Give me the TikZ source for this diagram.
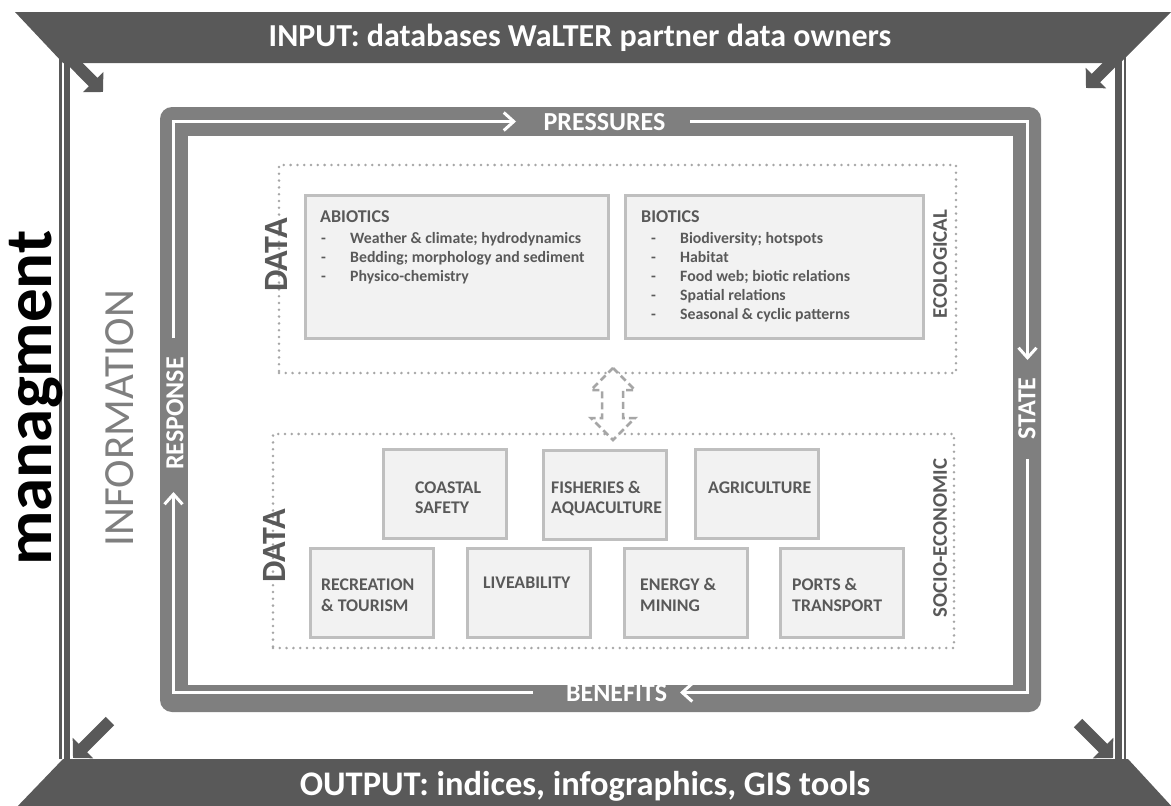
\documentclass[tikz,border=0pt]{standalone}
\usepackage{fontspec}
\setmainfont{Carlito}
\usetikzlibrary{arrows.meta}
\definecolor{dk}{HTML}{595959}
\definecolor{fr}{HTML}{7F7F7F}
\definecolor{bxf}{HTML}{F2F2F2}
\definecolor{bxl}{HTML}{BFBFBF}
\definecolor{dt}{HTML}{A6A6A6}
\newcommand{\fsz}[1]{\fontsize{#1}{#1}\selectfont}
\begin{document}
\begin{tikzpicture}[x=1pt,y=-1pt,
  bantext/.style={text=white,font=\bfseries\fsz{32},inner sep=0pt},
  carrow/.style={draw=dk,fill=dk,line width=12pt,-{Triangle[length=14pt,width=28pt]}},
  flow/.style={draw=white,line width=3pt,-{Straight Barb[length=10pt,width=18pt]}},
  flowlbl/.style={text=white,font=\bfseries\fsz{26},inner sep=0pt},
  dotbox/.style={draw=dt,line width=2.8pt,dash pattern=on 0pt off 6.8pt,line cap=round,inner sep=0pt},
  card/.style={draw=bxl,fill=bxf,line width=3pt,inner sep=0pt},
  cardtxt/.style={text=dk,font=\bfseries\fsz{17.8},inner sep=0pt,anchor=base west},
  itemtxt/.style={text=dk,font=\bfseries\fsz{15.8},inner sep=0pt,anchor=base west},
  headtxt/.style={text=dk,font=\bfseries\fsz{18},inner sep=0pt,anchor=base west},
  datatxt/.style={text=dk,font=\bfseries\fsz{34},inner sep=0pt,rotate=90},
  sidetxt/.style={text=dk,font=\bfseries\fsz{20.8},inner sep=0pt,rotate=90},
]
\useasboundingbox (0,0) rectangle (1171,806);
\fill[white] (0,0) rectangle (1171,806);

% outer double frame lines
\draw[dk,line width=2.7pt] (60.7,40) -- (60.7,759);
\draw[dk,line width=6.5pt] (67,40) -- (67,759);
\draw[dk,line width=6.5pt] (1118.3,40) -- (1118.3,759);
\draw[dk,line width=2.5pt] (1125,40) -- (1125,759);

% banners
\fill[dk] (15,12) -- (1171,12) -- (1120,63) -- (63,63) -- cycle;
\fill[dk] (63,759) -- (1128,759) -- (1175,810) -- (14,810) -- cycle;
\node[bantext] (input) at (580,38) {INPUT: databases WaLTER partner data owners};
\node[bantext,font=\bfseries\fsz{34.5}] (output) at (585,786) {OUTPUT: indices, infographics, GIS tools};

% corner arrows
\coordinate (a1s) at (55,43.5);   \coordinate (a1t) at (103,92);
\coordinate (a2s) at (1129,45);   \coordinate (a2t) at (1086,88);
\coordinate (a3s) at (110,721);   \coordinate (a3t) at (73,758);
\coordinate (a4s) at (1078,723);  \coordinate (a4t) at (1113,758);
\draw[carrow] (a1s) -- (a1t);
\draw[carrow] (a2s) -- (a2t);
\draw[carrow] (a3s) -- (a3t);
\draw[carrow] (a4s) -- (a4t);

% DPSIR frame
\fill[fr,rounded corners=12pt] (160,107) rectangle (1041,712);
\fill[white] (188,136) rectangle (1013,685);

\coordinate (ctl) at (173.5,121.5);
\coordinate (ctr) at (1027.5,121.5);
\coordinate (cbr) at (1027.5,692.5);
\coordinate (cbl) at (173.5,692.5);

\node[flowlbl] (press) at (604.5,122) {PRESSURES};
\node[flowlbl,rotate=90] (state) at (1027,408.5) {STATE};
\node[flowlbl] (bene) at (616.5,693) {BENEFITS};
\node[flowlbl,rotate=90] (resp) at (175,413.5) {RESPONSE};

\draw[flow] (173.5,338) -- (ctl) -- (516,121.5);
\draw[flow] (690,121.5) -- (ctr) -- (1027.5,360);
\draw[flow] (1027.5,459) -- (cbr) -- (680,692.5);
\draw[flow] (533,692.5) -- (cbl) -- (173.5,492);

% side texts
\node[rotate=90,text=fr,font=\fsz{43},inner sep=0pt] (info) at (120,418) {INFORMATION};
\node[rotate=90,text=black,font=\bfseries\fsz{67},inner sep=0pt,anchor=base] (mgmt) at (51,398) {managment};

% ecological
\node[dotbox,minimum width=677pt,minimum height=208pt] (eco) at (617.5,269) {};
\node[datatxt] (data1) at (276,255) {DATA};
\node[sidetxt] (ecol) at (940,264) {ECOLOGICAL};
\node[card,minimum width=303pt,minimum height=143pt] (abio) at (456.5,266.5) {};
\node[card,minimum width=298pt,minimum height=143pt] (bio) at (774,266.5) {};
\node[headtxt] (abioT) at (320,222) {ABIOTICS};
\node[itemtxt] (ab1) at (321,243) {\makebox[29pt][l]{-}Weather \& climate; hydrodynamics};
\node[itemtxt] (ab2) at (321,262) {\makebox[29pt][l]{-}Bedding; morphology and sediment};
\node[itemtxt] (ab3) at (321,281) {\makebox[29pt][l]{-}Physico-chemistry};
\node[headtxt] (bioT) at (641,222) {BIOTICS};
\node[itemtxt] (bi1) at (651,243) {\makebox[29pt][l]{-}Biodiversity; hotspots};
\node[itemtxt] (bi2) at (651,262) {\makebox[29pt][l]{-}Habitat};
\node[itemtxt] (bi3) at (651,281) {\makebox[29pt][l]{-}Food web; biotic relations};
\node[itemtxt] (bi4) at (651,300) {\makebox[29pt][l]{-}Spatial relations};
\node[itemtxt] (bi5) at (651,319) {\makebox[29pt][l]{-}Seasonal \& cyclic patterns};

% socio-economic
\node[dotbox,minimum width=681pt,minimum height=214pt] (socio) at (613.5,541) {};
\node[datatxt] (data2) at (274,546) {DATA};
\node[sidetxt] (soc) at (940,538) {SOCIO-ECONOMIC};
\node[card,minimum width=123pt,minimum height=89pt] (coast) at (444.5,493.5) {};
\node[card,minimum width=123pt,minimum height=89pt] (fish) at (605,494.5) {};
\node[card,minimum width=123pt,minimum height=89pt] (agri) at (756.5,493.5) {};
\node[card,minimum width=123pt,minimum height=89pt] (recr) at (371.5,593) {};
\node[card,minimum width=123pt,minimum height=89pt] (live) at (528.5,593) {};
\node[card,minimum width=123pt,minimum height=89pt] (ener) at (685.5,593) {};
\node[card,minimum width=123pt,minimum height=89pt] (port) at (841.5,593) {};
\node[cardtxt] (coastA) at (415,493) {COASTAL};
\node[cardtxt] (coastB) at (415,513) {SAFETY};
\node[cardtxt] (fishA) at (551,493) {FISHERIES \&};
\node[cardtxt] (fishB) at (551,513) {AQUACULTURE};
\node[cardtxt] (agriA) at (708,493) {AGRICULTURE};
\node[cardtxt] (recrA) at (321,590) {RECREATION};
\node[cardtxt] (recrB) at (321,611) {\& TOURISM};
\node[cardtxt] (liveA) at (483,588) {LIVEABILITY};
\node[cardtxt] (enerA) at (640,590) {ENERGY \&};
\node[cardtxt] (enerB) at (640,611) {MINING};
\node[cardtxt] (portA) at (792,590) {PORTS \&};
\node[cardtxt] (portB) at (792,611) {TRANSPORT};

% dashed double arrow between data blocks
\draw[dt,line width=2.5pt,dash pattern=on 7pt off 4pt,fill=white]
  (613,368) -- (635,390) -- (623,390) -- (623,418) -- (635,418) -- (613,440)
  -- (591,418) -- (602,418) -- (602,390) -- (591,390) -- cycle;
\end{tikzpicture}
\end{document}
